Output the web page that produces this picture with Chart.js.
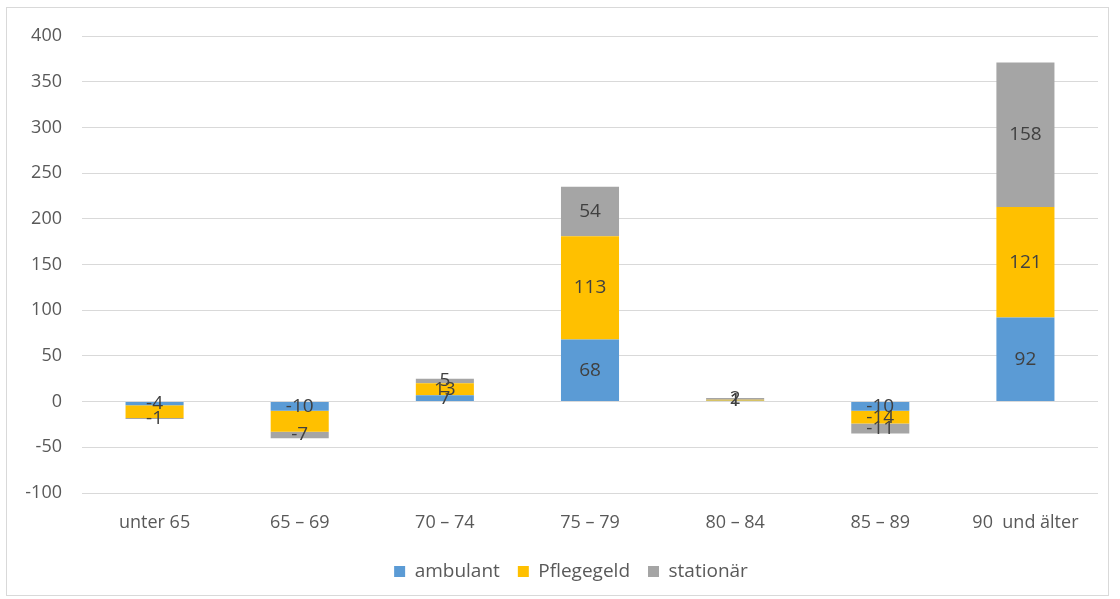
<!DOCTYPE html>
<html>
<head>
<meta charset="utf-8">
<script src="https://cdn.jsdelivr.net/npm/chart.js@4"></script>
<style>
  html, body { margin: 0; padding: 0; background: #fff; }
  #wrap { position: relative; width: 1120px; height: 599px; }
  #frame { position: absolute; left: 6px; top: 7px; width: 1103px; height: 589px; border: 1px solid #D9D9D9; box-sizing: border-box; pointer-events: none; }
  canvas { position: absolute; left: 0; top: 0; }
</style>
</head>
<body>
<div id="wrap">
  <canvas id="chart" width="1120" height="599"></canvas>
  <div id="frame"></div>
</div>
<script>
// Age groups and change per care type
const categories = ['unter 65', '65 – 69', '70 – 74', '75 – 79', '80 – 84', '85 – 89', '90  und älter'];
const ambulant    = [-4, -10, 7, 68, 1, -10, 92];
const pflegegeld  = [-14, -23, 13, 113, 1, -14, 121];
const stationaer  = [-1, -7, 5, 54, 2, -11, 158];
// value labels that are left off (dataset index, category index)
const hiddenLabels = [[1, 0], [1, 1]];
const yTicks = [-100, -50, 0, 50, 100, 150, 200, 250, 300, 350, 400];

const FONT = "'Open Sans', 'Liberation Sans', sans-serif";
const TEXT = '#595959';

// Writes each segment's value in the middle of its bar piece
const segmentLabels = {
  id: 'segmentLabels',
  afterDatasetsDraw(chart) {
    const ctx = chart.ctx;
    ctx.save();
    ctx.font = '19px ' + FONT;
    ctx.fillStyle = '#404040';
    ctx.textAlign = 'center';
    ctx.textBaseline = 'middle';
    chart.data.datasets.forEach((ds, di) => {
      const meta = chart.getDatasetMeta(di);
      meta.data.forEach((el, i) => {
        if (hiddenLabels.some(h => h[0] === di && h[1] === i)) return;
        const p = el.getProps(['x', 'y', 'base'], true);
        ctx.fillText(String(ds.data[i]), p.x, (p.y + p.base) / 2);
      });
    });
    ctx.restore();
  }
};

// Centres the legend under the plot area rather than the full canvas
const legendCentre = {
  id: 'legendCentre',
  afterLayout(chart) {
    const lg = chart.legend;
    if (!lg) return;
    const dx = 22;
    lg.left += dx;
    lg.right += dx;
  }
};

new Chart(document.getElementById('chart'), {
  type: 'bar',
  data: {
    labels: categories,
    datasets: [
      { label: 'ambulant', data: ambulant, backgroundColor: '#5B9BD5' },
      { label: 'Pflegegeld', data: pflegegeld, backgroundColor: '#FFC000' },
      { label: 'stationär', data: stationaer, backgroundColor: '#A5A5A5' }
    ]
  },
  options: {
    responsive: false,
    animation: false,
    layout: { padding: { left: 0, right: 22, top: 36, bottom: 8 } },
    datasets: { bar: { categoryPercentage: 1, barPercentage: 0.4 } },
    scales: {
      x: {
        stacked: true,
        grid: { display: false },
        border: { display: false },
        ticks: { color: TEXT, font: { family: FONT, size: 18 }, padding: 11 },
        afterFit(s) { s.height = 51; }
      },
      y: {
        stacked: true,
        min: -100, max: 400,
        afterBuildTicks(s) { s.ticks = yTicks.map(v => ({ value: v })); },
        grid: { color: '#D9D9D9', drawTicks: false },
        border: { display: false },
        ticks: { color: TEXT, font: { family: FONT, size: 18 }, padding: 20 },
        afterFit(s) { s.width = 82; }
      }
    },
    plugins: {
      legend: {
        position: 'bottom',
        labels: { color: TEXT, font: { family: FONT, size: 19 }, boxWidth: 11, boxHeight: 11, padding: 18 }
      },
      tooltip: { enabled: false }
    }
  },
  plugins: [segmentLabels, legendCentre]
});
</script>
</body>
</html>
